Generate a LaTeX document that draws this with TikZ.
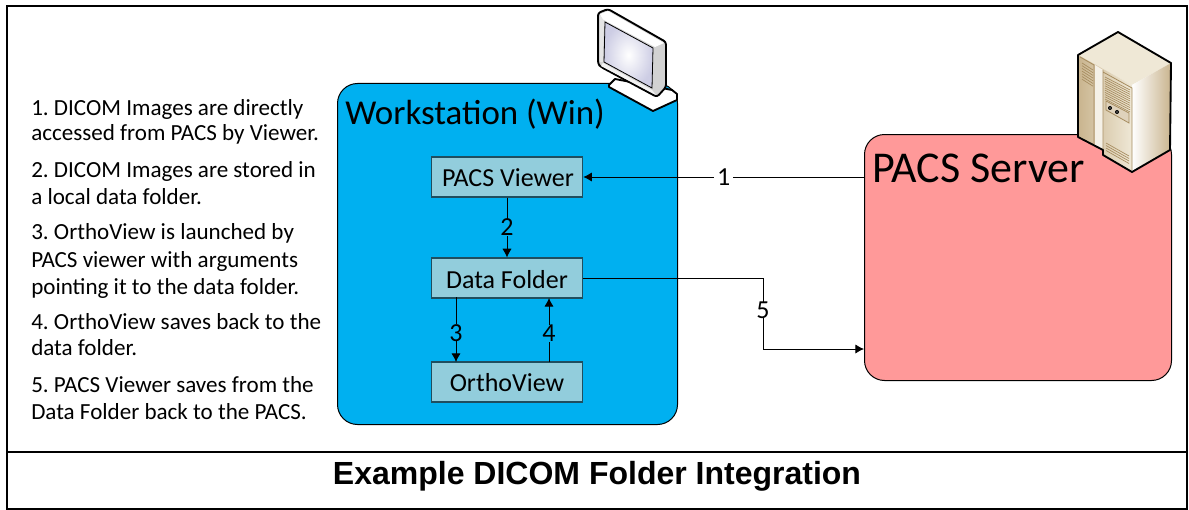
\documentclass[tikz,border=0pt]{standalone}
\usepackage{fontspec}
\setmainfont{Carlito}
\newfontfamily\titlefont{Liberation Sans}
\usetikzlibrary{arrows.meta,shadings}
\definecolor{wsblue}{HTML}{00B0F0}
\definecolor{boxteal}{HTML}{92CDDC}
\definecolor{boxedge}{HTML}{1F4E5F}
\definecolor{pacsred}{HTML}{FF9999}
\definecolor{tan1}{HTML}{EFE8D6}
\definecolor{tan2}{HTML}{C9B48E}
\definecolor{tan3}{HTML}{A68C5F}
\tikzset{
  x=0.75pt,y=-0.75pt,
  frame/.style={draw=black,line width=1.5pt},
  zone/.style={draw=black,line width=0.75pt,rounded corners=15pt,anchor=north west,inner sep=0pt},
  procbox/.style={draw=boxedge,line width=0.9pt,fill=boxteal,minimum width=113.5pt,minimum height=30pt,inner sep=0pt},
  boxtext/.style={anchor=base,inner sep=0pt,font=\fontsize{19.5}{22}\selectfont},
  zonetitle/.style={anchor=base west,inner sep=0pt},
  link/.style={draw=black,line width=0.7pt,-{Latex[length=6.5pt,width=7pt]}},
  linklabel/.style={inner xsep=2pt,inner ysep=0pt,font=\fontsize{19.5}{22}\selectfont},
  notes/.style={anchor=base west,inner sep=0pt,font=\frenchspacing\fontsize{17.3}{20}\selectfont},
  icon/.style={draw=black,line width=1.4pt,line join=round},
  grille/.style={draw=tan3,line width=0.5pt}
}
\begin{document}
\begin{tikzpicture}
\useasboundingbox (0,0) rectangle (1189,510);
\fill[white] (0,0) rectangle (1189,510);
\draw[frame] (7,6) rectangle (1187,509);
\draw[frame] (7,452) -- (1187,452);
\node[anchor=center,font=\titlefont\bfseries\fontsize{24}{28}\selectfont] (title) at (597,476) {Example DICOM Folder Integration};
% zones
\node[zone,fill=wsblue,minimum width=255pt,minimum height=255.75pt] (ws) at (337,83) {};
\node[zone,fill=pacsred,minimum width=230.25pt,minimum height=184.5pt] (pacs) at (864,134) {};
\node[zonetitle,font=\fontsize{26.2}{30}\selectfont] (wst) at (345,124) {Workstation (Win)};
\node[zonetitle,font=\fontsize{33}{38}\selectfont] (pacst) at (872,182) {PACS Server};
% boxes
\node[procbox] (viewer) at (507,177) {};
\node[procbox] (folder) at (507,278) {};
\node[procbox] (ortho) at (507,382) {};
\node[boxtext] (viewert) at (508,186) {PACS Viewer};
\node[boxtext] (foldert) at (507,288) {Data Folder};
\node[boxtext] (orthot) at (507,391) {OrthoView};
% connectors
\draw[link] (pacs.west |- viewer.east) -- node[linklabel,fill=white,pos=0.5] (l1) {1} (viewer.east);
\draw[link] (viewer.south) -- node[linklabel,fill=wsblue] (l2) {2} (folder.north);
\coordinate (f3) at (456,297);\coordinate (o3) at (456,362);
\draw[link] (f3) -- node[linklabel,fill=wsblue,pos=0.55] (l3) {3} (o3);
\coordinate (o4) at (549,362);\coordinate (f4) at (549,298);
\draw[link] (o4) -- node[linklabel,fill=wsblue,pos=0.45] (l4) {4} (f4);
\coordinate (c5a) at (763,278);\coordinate (c5b) at (763,349);\coordinate (p5) at (864,349);
\draw[link] (folder.east) -- (c5a) -- node[linklabel,fill=white,pos=0.45,inner xsep=0pt] (l5) {5} (c5b) -- (p5);
% notes
\node[notes] (n1a) at (31,115) {1. DICOM Images are directly};
\node[notes] (n1b) at (31,141) {accessed from PACS by Viewer.};
\node[notes] (n2a) at (31,177) {2. DICOM Images are stored in};
\node[notes] (n2b) at (31,204) {a local data folder.};
\node[notes] (n3a) at (31,239) {3. OrthoView is launched by};
\node[notes] (n3b) at (31,267) {PACS viewer with arguments};
\node[notes] (n3c) at (31,294) {pointing it to the data folder.};
\node[notes] (n4a) at (31,329) {4. OrthoView saves back to the};
\node[notes] (n4b) at (31,355) {data folder.};
\node[notes] (n5a) at (31,392) {5. PACS Viewer saves from the};
\node[notes] (n5b) at (31,419) {Data Folder back to the PACS.};
% monitor icon
\draw[icon,fill=white] (609,85) -- (615,79) -- (672,90) -- (677,94) -- (677,100) -- (653,111) -- (609,87) -- cycle;
\draw[icon,fill=gray!35,rounded corners=2pt] (598,13) -- (608,9) -- (666,42) -- (666,87) -- (657,97) -- (601,67) -- (598,64) -- cycle;
\fill[white] (600,14) -- (608,11) -- (664,43) -- (655,47) -- (602,19) -- cycle;
\fill[gray!20] (600,15) -- (604,21) -- (603,62) -- (600,62) -- cycle;
\fill[gray!10] (603,63) -- (652,90) -- (656,95) -- (601,66) -- cycle;
\shade[inner color=white,outer color=blue!30!gray!30,draw=black,line width=0.6pt] (605,22) -- (653,48) -- (652,88) -- (604,62) -- cycle;
% server icon
\fill[tan1] (1078,55) -- (1118,32) -- (1171,63) -- (1132,85) -- cycle;
\shade[left color=white,right color=tan2,draw=none] (1132,85) -- (1171,63) -- (1170,150) -- (1132,172) -- cycle;
\shade[left color=tan2,right color=tan1,draw=none] (1078,55) -- (1132,85) -- (1132,172) -- (1103,155) -- (1103,150) -- (1078,137) -- cycle;
\fill[tan1!60] (1095,65) -- (1103,70) -- (1103,150) -- (1095,146) -- cycle;
\draw[tan3,line width=0.6pt] (1080,57) -- (1094,65) -- (1094,144) (1103,70) -- (1103,150) (1103,72) -- (1132,88) -- (1132,170);
\foreach \i in {0,1,...,6}{
  \draw[grille] (1082,{63+\i*2.7}) -- (1093,{70+\i*2.7});
}
\foreach \i in {0,1,...,10}{
  \draw[grille] (1105,{77+\i*2.2}) -- (1130,{90+\i*2.2});
}
\draw[draw=tan3,fill=tan2!60,line width=0.6pt] (1106,101) -- (1129,113) -- (1129,123) -- (1106,110) -- cycle;
\fill[black] (1110,108) circle[radius=2] (1117,112) circle[radius=2];
\fill[white] (1110,108) circle[radius=0.6] (1117,112) circle[radius=0.6];
\foreach \i in {0,1,2,3}{
  \draw[grille] (1106,{143+\i*2.5}) -- (1129,{156+\i*2.5});
}
\draw[icon] (1078,55) -- (1118,32) -- (1171,63) -- (1170,150) -- (1132,172) -- (1103,155) -- (1103,150) -- (1078,137) -- cycle;
\end{tikzpicture}
\end{document}
